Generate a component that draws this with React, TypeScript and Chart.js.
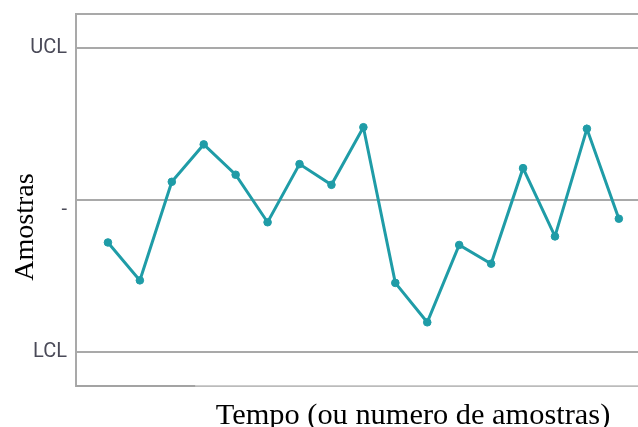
import React, { useEffect, useRef } from 'react';
import { Chart, registerables } from 'chart.js';

Chart.register(...registerables);

// ---- data ----
const sampleIndex = [1, 2, 3, 4, 5, 6, 7, 8, 9, 10, 11, 12, 13, 14, 15, 16, 17];
const sampleValues = [-0.84, -1.59, 0.36, 1.1, 0.5, -0.44, 0.71, 0.3, 1.44, -1.64, -2.42, -0.89, -1.26, 0.63, -0.72, 1.41, -0.37];
const limitValues = [3, 0, -3];
const limitLabels = ['UCL', '-', 'LCL'];
const yMin = -3.68;
const yMax = 3.68;
const xMin = 0;
const xMax = 17.6;
const yTitle = 'Amostras';
const xTitle = 'Tempo (ou numero de amostras)';

const SERIES = '#1f9ca7';
const GRID = '#a9a9a9';

const titlesPlugin = {
  id: 'axisTitles',
  afterDraw(chart: any) {
    const { ctx, chartArea } = chart;
    const midY = (chartArea.top + chartArea.bottom) / 2;
    const midX = (chartArea.left + chartArea.right) / 2;
    ctx.save();
    // darker left part of the bottom axis
    ctx.strokeStyle = '#a3a3a3';
    ctx.lineWidth = 2;
    ctx.beginPath();
    ctx.moveTo(chartArea.left, chartArea.bottom);
    ctx.lineTo(chartArea.left + (chartArea.right - chartArea.left) * 0.212, chartArea.bottom);
    ctx.stroke();

    ctx.fillStyle = '#000';
    ctx.textAlign = 'center';
    ctx.textBaseline = 'alphabetic';
    ctx.font = '28px "Liberation Serif", "Times New Roman", serif';
    ctx.save();
    ctx.translate(chartArea.left - 43, midY + 27);
    ctx.rotate(-Math.PI / 2);
    ctx.fillText(yTitle, 0, 0);
    ctx.restore();

    ctx.font = '30.4px "Liberation Serif", "Times New Roman", serif';
    ctx.fillText(xTitle, midX + 56, chartArea.bottom + 38);
    ctx.restore();
  },
};

export default function App() {
  const ref = useRef<HTMLCanvasElement | null>(null);

  useEffect(() => {
    if (!ref.current) return;
    const chart = new Chart(ref.current, {
      type: 'line',
      data: {
        datasets: [
          {
            data: sampleIndex.map((x, i) => ({ x, y: sampleValues[i] })),
            borderColor: SERIES,
            backgroundColor: SERIES,
            borderWidth: 3,
            pointRadius: 3.8,
            pointBorderWidth: 1,
            pointBackgroundColor: SERIES,
            pointBorderColor: SERIES,
            tension: 0,
            clip: false as any,
          },
        ],
      },
      options: {
        animation: false,
        responsive: false,
        devicePixelRatio: 1,
        layout: { autoPadding: false, padding: { top: 14, right: 0, left: 0, bottom: 0 } },
        plugins: {
          legend: { display: false },
          tooltip: { enabled: false },
          title: { display: false },
        },
        scales: {
          x: {
            type: 'linear',
            min: xMin,
            max: xMax,
            ticks: { display: false },
            grid: { display: false, drawTicks: false },
            border: { display: true, color: '#cdcdcd', width: 1.5 },
            afterFit: (scale: any) => {
              scale.height = 41;
              scale.paddingLeft = 0;
              scale.paddingRight = 0;
            },
          },
          y: {
            type: 'linear',
            min: yMin,
            max: yMax,
            afterBuildTicks: (scale: any) => {
              scale.ticks = [yMin, ...limitValues.slice().reverse(), yMax].map((v) => ({ value: v }));
            },
            ticks: {
              padding: 9,
              color: '#4a4a58',
              font: { family: 'Roboto', size: 20, lineHeight: 1.0 },
              callback: (value: any) => {
                const i = limitValues.indexOf(Number(value));
                if (i < 0) return '';
                const l = limitLabels[i];
                return l === '-' ? ['', l] : l;
              },
            },
            grid: { color: GRID, lineWidth: 2, drawTicks: false },
            border: { display: true, color: GRID, width: 2 },
            afterFit: (scale: any) => {
              scale.width = 76;
              scale.paddingTop = 0;
              scale.paddingBottom = 0;
            },
          },
        },
      } as any,
      plugins: [titlesPlugin],
    });
    return () => chart.destroy();
  }, []);

  return (
    <div style={{ position: 'absolute', left: 0, top: 0, width: 638, height: 427, background: '#fff' }}>
      <canvas ref={ref} width={638} height={427} style={{ display: 'block' }} />
    </div>
  );
}
